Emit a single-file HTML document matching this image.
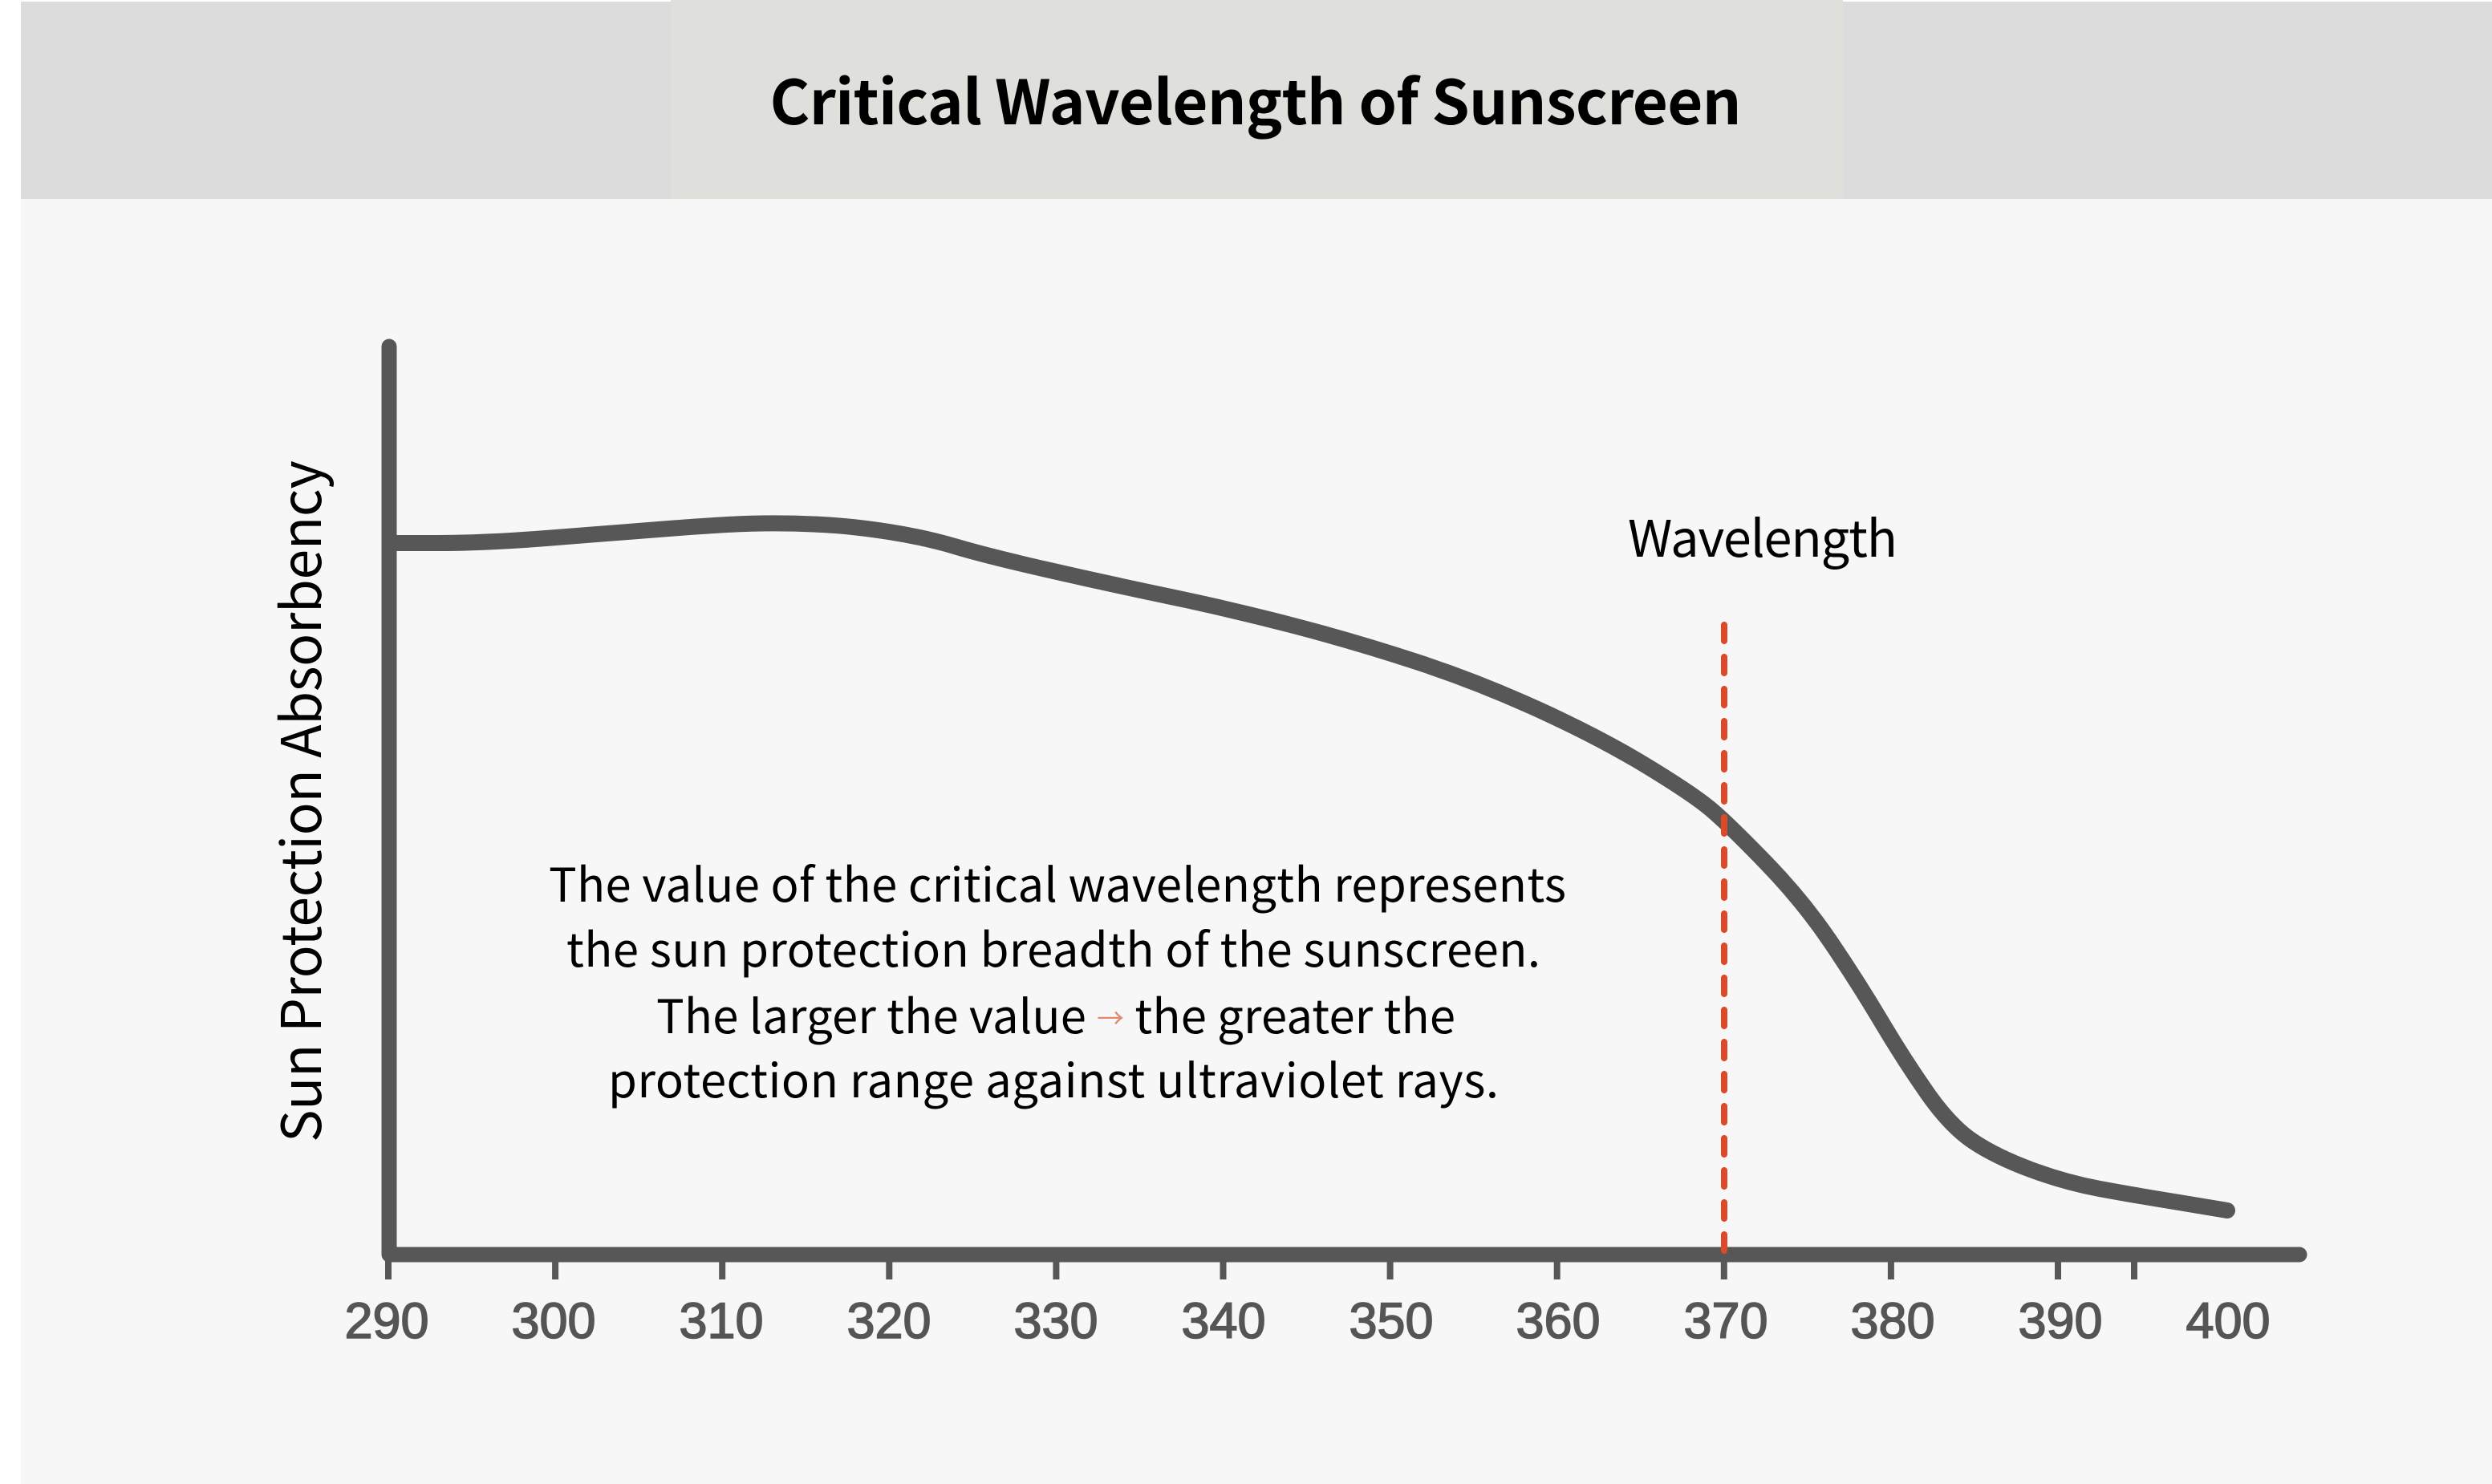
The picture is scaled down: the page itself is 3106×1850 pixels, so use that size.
<!DOCTYPE html>
<html>
<head>
<meta charset="utf-8">
<style>
  html, body { margin: 0; padding: 0; background: #ffffff; }
  body { width: 3106px; height: 1850px; overflow: hidden; }
  svg { display: block; }
  .cjk { font-family: "Noto Sans CJK SC", "Liberation Sans", sans-serif; }
  .tick { font-family: "Liberation Sans", Arial, sans-serif; }
</style>
</head>
<body>
<svg width="3106" height="1850" viewBox="0 0 3106 1850" xmlns="http://www.w3.org/2000/svg">
  <!-- backgrounds -->
  <rect x="0" y="0" width="3106" height="1850" fill="#ffffff"/>
  <rect x="26" y="2" width="3080" height="246" fill="#dcdcdc"/>
  <rect x="836" y="0" width="1461" height="248" fill="#dfdfdb"/>
  <rect x="26" y="248" width="3080" height="1602" fill="#f7f7f7"/>

  <!-- title -->
  <text class="cjk" x="1565" y="155" text-anchor="middle" font-size="76" font-weight="700" fill="#000" textLength="1211">Critical Wavelength of Sunscreen</text>

  <!-- axes -->
  <path d="M485,432 L485,1564 L2866,1564" fill="none" stroke="#575757" stroke-width="19" stroke-linecap="round" stroke-linejoin="round"/>

  <!-- ticks -->
  <g stroke="#575757" stroke-width="8">
    <line x1="484" y1="1570" x2="484" y2="1595"/>
    <line x1="692.1" y1="1570" x2="692.1" y2="1595"/>
    <line x1="900.2" y1="1570" x2="900.2" y2="1595"/>
    <line x1="1108.3" y1="1570" x2="1108.3" y2="1595"/>
    <line x1="1316.4" y1="1570" x2="1316.4" y2="1595"/>
    <line x1="1524.5" y1="1570" x2="1524.5" y2="1595"/>
    <line x1="1732.6" y1="1570" x2="1732.6" y2="1595"/>
    <line x1="1940.7" y1="1570" x2="1940.7" y2="1595"/>
    <line x1="2148.8" y1="1570" x2="2148.8" y2="1595"/>
    <line x1="2356.9" y1="1570" x2="2356.9" y2="1595"/>
    <line x1="2565" y1="1570" x2="2565" y2="1595"/>
    <line x1="2660" y1="1570" x2="2660" y2="1595"/>
  </g>

  <!-- tick labels -->
  <g class="tick" font-size="63" fill="#555555" stroke="#555555" stroke-width="1.6" text-anchor="middle">
    <text x="482" y="1668">290</text>
    <text x="690" y="1668">300</text>
    <text x="899" y="1668">310</text>
    <text x="1108" y="1668">320</text>
    <text x="1316" y="1668">330</text>
    <text x="1525" y="1668">340</text>
    <text x="1734" y="1668">350</text>
    <text x="1942" y="1668">360</text>
    <text x="2151" y="1668">370</text>
    <text x="2359" y="1668">380</text>
    <text x="2568" y="1668">390</text>
    <text x="2777" y="1668">400</text>
  </g>

  <!-- curve -->
  <path d="M488,677 L546,677 Q604,677 680.5,671 Q757,665 833.5,659 Q910,653 948.5,652.5 Q987,652 1025,654 Q1063,656 1108,663 Q1153,670 1191.5,681.5 Q1230,693 1306.5,710.5 Q1383,728 1459.5,744 Q1536,760 1612.5,780 Q1689,800 1765.5,825 Q1842,850 1918.5,885 Q1995,920 2052.5,955 Q2110,990 2132.5,1009 Q2155,1028 2201,1075.5 Q2247,1123 2281.5,1174 Q2316,1225 2344.5,1273 Q2373,1321 2402,1362.5 Q2431,1404 2459.5,1423 Q2488,1442 2531,1458 Q2574,1474 2617,1482 Q2660,1490 2719,1499.5 L2776,1509" fill="none" stroke="#575757" stroke-width="20" stroke-linecap="round" stroke-linejoin="round"/>

  <!-- dashed critical wavelength line -->
  <line x1="2149" y1="779" x2="2149" y2="1566" stroke="#dd4a2a" stroke-width="8" stroke-linecap="round" stroke-dasharray="20 20"/>

  <!-- Wavelength label -->
  <text class="cjk" x="2029" y="694" font-size="63" fill="#000" textLength="336">Wavelength</text>

  <!-- Y axis label -->
  <text class="cjk" transform="translate(400,999) rotate(-90)" text-anchor="middle" font-size="68" fill="#000" textLength="850">Sun Protection Absorbency</text>

  <!-- annotation -->
  <g class="cjk" font-size="58" fill="#000" text-anchor="middle">
    <text x="1318" y="1124" textLength="1268">The value of the critical wavelength represents</text>
    <text x="1313" y="1205" textLength="1214">the sun protection breadth of the sunscreen.</text>
    <text x="1316" y="1288" textLength="996">The larger the value <tspan font-size="34" fill="#e08a70" dy="-6">→</tspan><tspan dy="6"> the greater the</tspan></text>
    <text x="1313" y="1368" textLength="1110">protection range against ultraviolet rays.</text>
  </g>
</svg>
</body>
</html>
